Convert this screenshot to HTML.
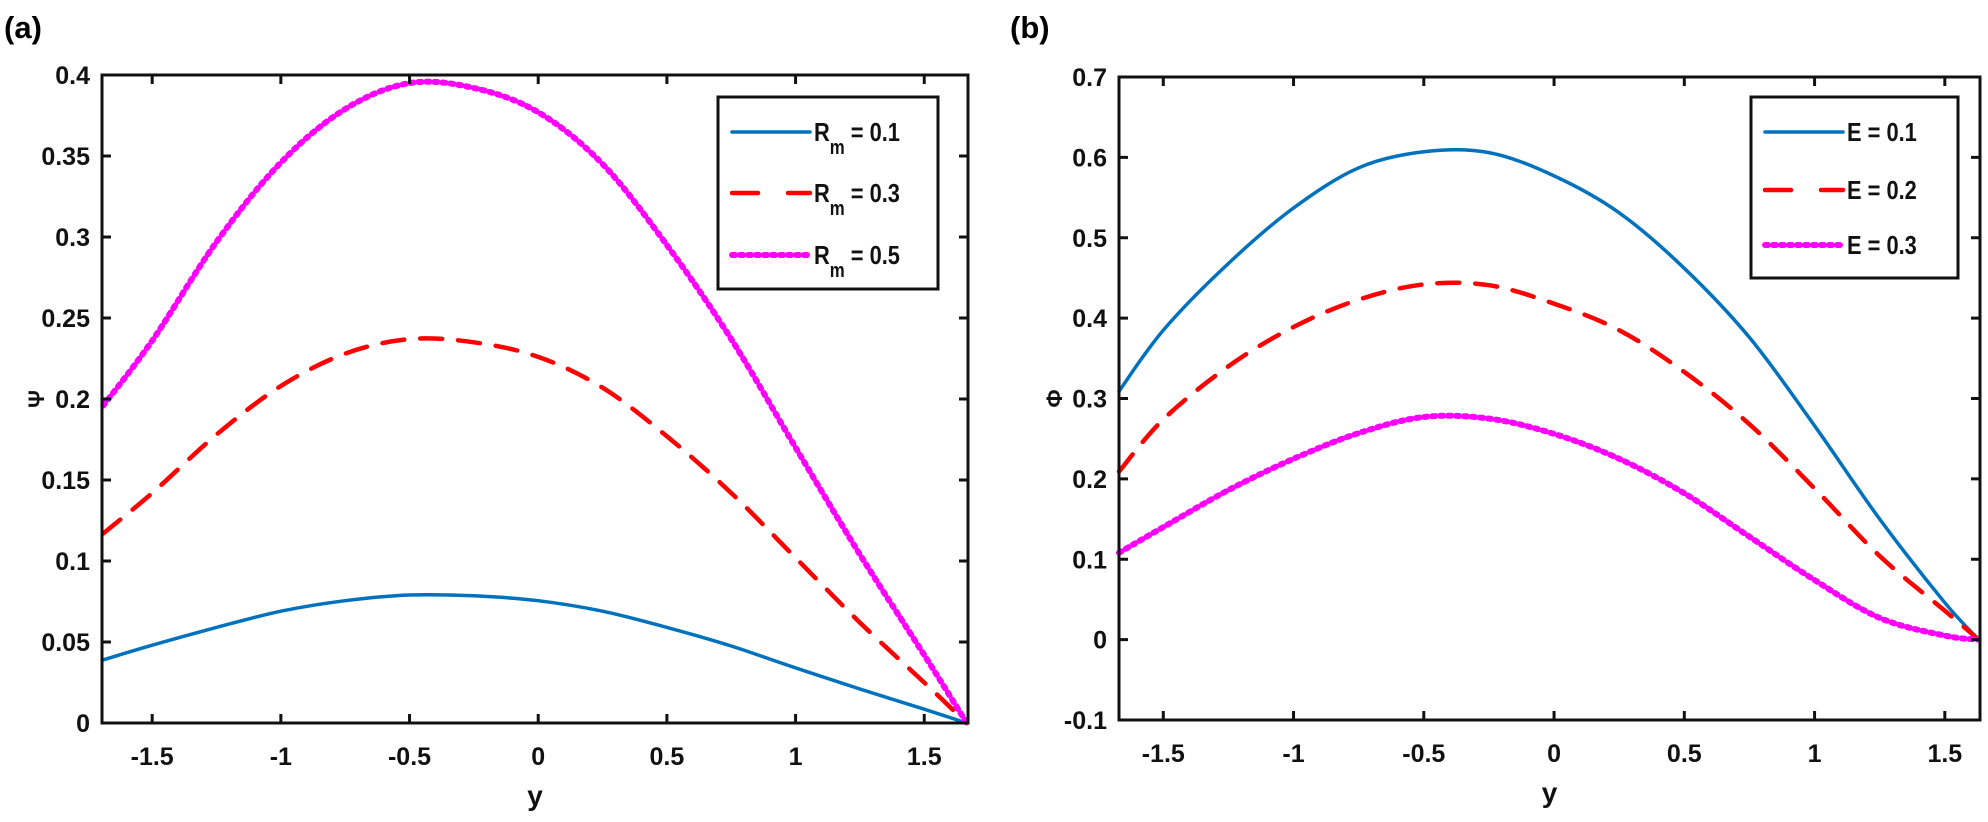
<!DOCTYPE html>
<html><head><meta charset="utf-8">
<style>
html,body{margin:0;padding:0;background:#fff;}
svg{display:block;font-family:"Liberation Sans",Arial,sans-serif;font-weight:bold;}
</style></head>
<body>
<svg id="fig" width="1988" height="822" viewBox="0 0 1988 822">
<text x="4" y="38" font-size="31">(a)</text>
<text x="1010" y="38" font-size="31">(b)</text>
<g id="pa"></g>
<g id="pb"></g>
</svg>
<script>
// ---- Panel (a) data ----
const aX = [-1.69,-1.5,-1.25,-1,-0.75,-0.5,-0.25,0,0.25,0.5,0.75,1,1.25,1.5,1.665];
const aRm01 = [0.039,0.048,0.059,0.069,0.0755,0.079,0.0785,0.0755,0.069,0.059,0.0475,0.034,0.021,0.0085,0];
const aRm03 = [0.117,0.142,0.178,0.208,0.228,0.237,0.235,0.226,0.207,0.177,0.142,0.102,0.062,0.025,0];
const aRm05 = [0.196,0.236,0.297,0.346,0.379,0.395,0.392,0.377,0.345,0.295,0.237,0.170,0.104,0.042,0];
const aXTicks = [-1.5,-1,-0.5,0,0.5,1,1.5];
const aXTickLabels = ["-1.5","-1","-0.5","0","0.5","1","1.5"];
const aYTicks = [0,0.05,0.1,0.15,0.2,0.25,0.3,0.35,0.4];
const aYTickLabels = ["0","0.05","0.1","0.15","0.2","0.25","0.3","0.35","0.4"];
// ---- Panel (b) data ----
const bX = [-1.67,-1.5,-1.25,-1,-0.75,-0.5,-0.25,0,0.25,0.5,0.75,1,1.25,1.5,1.63];
const bE01 = [0.309,0.385,0.468,0.537,0.587,0.607,0.606,0.577,0.531,0.462,0.376,0.266,0.150,0.046,0];
const bE02 = [0.209,0.274,0.340,0.389,0.423,0.442,0.441,0.418,0.385,0.333,0.268,0.188,0.104,0.036,0];
const bE03 = [0.108,0.140,0.186,0.225,0.257,0.277,0.275,0.256,0.225,0.182,0.128,0.074,0.027,0.005,0];
const bXTicks = [-1.5,-1,-0.5,0,0.5,1,1.5];
const bXTickLabels = ["-1.5","-1","-0.5","0","0.5","1","1.5"];
const bYTicks = [-0.1,0,0.1,0.2,0.3,0.4,0.5,0.6,0.7];
const bYTickLabels = ["-0.1","0","0.1","0.2","0.3","0.4","0.5","0.6","0.7"];

const NS="http://www.w3.org/2000/svg";
function mk(tag,attrs,parent){const e=document.createElementNS(NS,tag);for(const k in attrs)e.setAttribute(k,attrs[k]);parent.appendChild(e);return e;}
function smoothPath(pts){
  let d="M"+pts[0][0].toFixed(1)+","+pts[0][1].toFixed(1);
  for(let i=0;i<pts.length-1;i++){
    const p0=pts[i-1]||pts[i],p1=pts[i],p2=pts[i+1],p3=pts[i+2]||p2;
    const c1=[p1[0]+(p2[0]-p0[0])/6,p1[1]+(p2[1]-p0[1])/6];
    const c2=[p2[0]-(p3[0]-p1[0])/6,p2[1]-(p3[1]-p1[1])/6];
    d+="C"+c1[0].toFixed(1)+","+c1[1].toFixed(1)+" "+c2[0].toFixed(1)+","+c2[1].toFixed(1)+" "+p2[0].toFixed(1)+","+p2[1].toFixed(1);
  }
  return d;
}
const styles=[
  {stroke:"#0072BD",width:3.5,dash:null},
  {stroke:"#FF0000",width:4.5,dash:"22,16"},
  {stroke:"#FF00FF",width:6,dash:"3,5"}
];
function panel(g,cfg){
  const sx=v=>cfg.L+(v-cfg.x0)/(cfg.x1-cfg.x0)*(cfg.R-cfg.L);
  const sy=v=>cfg.B-(v-cfg.y0)/(cfg.y1-cfg.y0)*(cfg.B-cfg.T);
  cfg.series.forEach((s,i)=>{
    const pts=cfg.xs.map((x,j)=>[sx(x),sy(s[j])]);
    const p=mk("path",{d:smoothPath(pts),fill:"none",stroke:styles[i].stroke,"stroke-width":styles[i].width,"stroke-linecap":"round"},g);
    if(styles[i].dash)p.setAttribute("stroke-dasharray",styles[i].dash);
    
    
  });
  const box=mk("rect",{x:cfg.L,y:cfg.T,width:cfg.R-cfg.L,height:cfg.B-cfg.T,fill:"none",stroke:"#111","stroke-width":3},g);
  
  
  cfg.xt.forEach((v,i)=>{
    const x=sx(v);
    mk("line",{x1:x,x2:x,y1:cfg.B,y2:cfg.B-9,stroke:"#111","stroke-width":3},g);
    mk("line",{x1:x,x2:x,y1:cfg.T,y2:cfg.T+9,stroke:"#111","stroke-width":3},g);
    const t=mk("text",{x:x,y:cfg.B+42,"font-size":25,"text-anchor":"middle",fill:"#111"},g);
    t.textContent=cfg.xtl[i];
    
    
  });
  cfg.yt.forEach((v,i)=>{
    const y=sy(v);
    mk("line",{x1:cfg.L,x2:cfg.L+9,y1:y,y2:y,stroke:"#111","stroke-width":3},g);
    mk("line",{x1:cfg.R,x2:cfg.R-9,y1:y,y2:y,stroke:"#111","stroke-width":3},g);
    const t=mk("text",{x:cfg.L-12,y:y+9,"font-size":25,"text-anchor":"end",fill:"#111"},g);
    t.textContent=cfg.ytl[i];
    
    
  });
  const xl=mk("text",{x:(cfg.L+cfg.R)/2,y:cfg.B+82,"font-size":28,"text-anchor":"middle",fill:"#111"},g);
  xl.textContent="y";
  
  
  const yl=mk("text",{x:cfg.ylx,y:(cfg.T+cfg.B)/2,"font-size":22,"text-anchor":"middle",fill:"#111",transform:"rotate(-90 "+cfg.ylx+" "+(cfg.T+cfg.B)/2+")"},g);
  yl.textContent=cfg.ylabel;
  
  
  const lg=mk("g",{},g);
  
  
  mk("rect",{x:cfg.lg.x,y:cfg.lg.y,width:cfg.lg.w,height:cfg.lg.h,fill:"#fff",stroke:"#111","stroke-width":3},lg);
  cfg.lg.rows.forEach((ry,i)=>{
    const e=mk("g",{},lg);
    
    
    const ln=mk("line",{x1:cfg.lg.x+14,x2:cfg.lg.x+92,y1:ry,y2:ry,stroke:styles[i].stroke,"stroke-width":styles[i].width,"stroke-linecap":"round"},e);
    if(styles[i].dash)ln.setAttribute("stroke-dasharray",i==1?"26,30":"3,5");
    const tx=cfg.lg.x+96;
    const t=mk("text",{x:0,y:0,"font-size":26,fill:"#111",transform:"translate("+tx+","+(ry+9)+") scale(0.84,1)"},e);
    if(cfg.lg.sub){
      t.textContent="R";
      const s=mk("tspan",{dy:13,"font-size":20},t);s.textContent="m";
      const r=mk("tspan",{dy:-13,"font-size":26},t);r.textContent=" = "+cfg.lg.labels[i];
    } else t.textContent=cfg.lg.labels[i];
  });
}
panel(document.getElementById("pa"),{L:102,R:968,T:75,B:723,x0:-1.695,x1:1.67,y0:0,y1:0.4,
  xs:aX,series:[aRm01,aRm03,aRm05],names:["series-rm-0.1","series-rm-0.3","series-rm-0.5"],
  xt:aXTicks,xtl:aXTickLabels,yt:aYTicks,ytl:aYTickLabels,ylabel:"Ψ",ylx:44,
  lg:{x:718,y:97,w:220,h:192,rows:[132,193,255],labels:["0.1","0.3","0.5"],sub:true}});
panel(document.getElementById("pb"),{L:1119,R:1980,T:77,B:720,x0:-1.67,x1:1.635,y0:-0.1,y1:0.7,
  xs:bX,series:[bE01,bE02,bE03],names:["series-e-0.1","series-e-0.2","series-e-0.3"],
  xt:bXTicks,xtl:bXTickLabels,yt:bYTicks,ytl:bYTickLabels,ylabel:"Φ",ylx:1062,
  lg:{x:1751,y:97,w:207,h:181,rows:[132,190,245],labels:["E = 0.1","E = 0.2","E = 0.3"],sub:false}});
</script>
</body></html>
